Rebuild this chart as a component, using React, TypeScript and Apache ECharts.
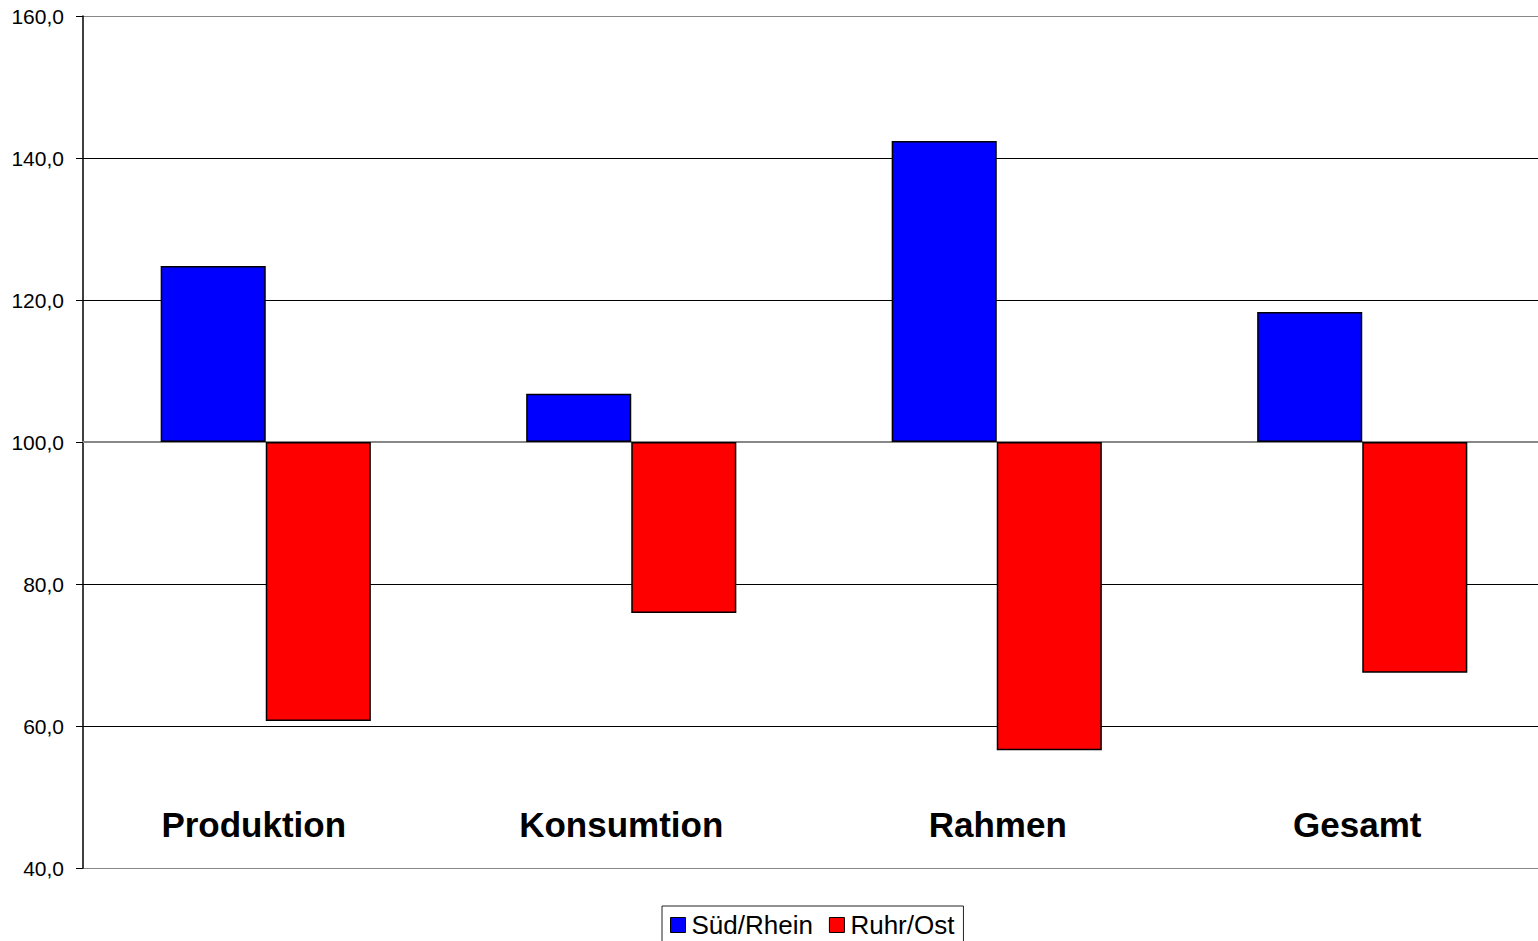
import React, { useEffect, useRef } from "react";
import * as echarts from "echarts";

// Index values (base = 100) per area
const categories = ["Produktion", "Konsumtion", "Rahmen", "Gesamt"];
const suedRhein = [124.8, 106.8, 142.4, 118.3];
const ruhrOst = [60.7, 75.9, 56.6, 67.5];
const BASE = 100;

// small horizontal nudges of the category captions (px, negative = left)
const labelShift = [-12, -10, 1, -5];

const FONT = 'Arial, "Liberation Sans", sans-serif';

const fmt = (v: number) => (v + BASE).toFixed(1).replace(".", ",");

export default function App() {
  const ref = useRef<HTMLDivElement>(null);

  useEffect(() => {
    document.body.style.margin = "0";
    const chart = echarts.init(ref.current!, null, { renderer: "svg" });

    const rich: Record<string, any> = {};
    labelShift.forEach((s, i) => {
      rich["c" + i] = {
        fontSize: 35,
        fontWeight: "bold",
        color: "#000",
        fontFamily: FONT,
        padding: s < 0 ? [0, -2 * s, 0, 0] : [0, 0, 0, 2 * s],
      };
    });

    chart.setOption({
      animation: false,
      backgroundColor: "#ffffff",
      textStyle: { fontFamily: FONT },
      grid: { left: 83, right: 0, top: 16, bottom: 73, containLabel: false },
      legend: {
        bottom: -9,
        left: 662,
        data: ["Süd/Rhein", "Ruhr/Ost"],
        icon: "rect",
        itemWidth: 15,
        itemHeight: 15,
        itemGap: 16,
        padding: [6, 9, 12, 8],
        borderColor: "#222",
        borderWidth: 1,
        textStyle: { fontSize: 26, color: "#000", fontFamily: FONT, padding: [0, 0, 0, 1] },
        itemStyle: { borderColor: "#000", borderWidth: 1 },
      },
      xAxis: {
        type: "category",
        data: categories,
        axisLine: { show: true, lineStyle: { color: "#888", width: 2 } },
        axisTick: { show: false },
        axisLabel: {
          inside: true,
          margin: 26,
          formatter: (v: string, i: number) => `{c${i}|${v}}`,
          rich,
        },
        splitLine: { show: false },
      },
      yAxis: {
        type: "value",
        min: -60,
        max: 60,
        interval: 20,
        axisLine: { show: true, lineStyle: { color: "#000", width: 1.5 } },
        axisTick: { show: true, length: 7, lineStyle: { color: "#000" } },
        axisLabel: {
          formatter: fmt,
          fontSize: 21,
          color: "#000",
          margin: 19,
          fontFamily: FONT,
        },
        splitLine: {
          show: true,
          lineStyle: {
            color: ["#888", "#000", "#000", "#000", "#000", "#000", "#888"],
            width: 1,
          },
        },
      },
      series: [
        {
          name: "Süd/Rhein",
          type: "bar",
          data: suedRhein.map((v) => +(v - BASE).toFixed(2)),
          barGap: "0%",
          barCategoryGap: "42.5%",
          itemStyle: { color: "#0000ff", borderColor: "#000", borderWidth: 1.5 },
        },
        {
          name: "Ruhr/Ost",
          type: "bar",
          data: ruhrOst.map((v) => +(v - BASE).toFixed(2)),
          barGap: "0%",
          barCategoryGap: "42.5%",
          itemStyle: { color: "#ff0000", borderColor: "#000", borderWidth: 1.5 },
        },
      ],
    });
    return () => chart.dispose();
  }, []);

  // the plot runs a few pixels past the right edge of the visible frame
  return (
    <div style={{ width: 1538, height: 941, overflow: "hidden" }}>
      <div ref={ref} style={{ width: 1545, height: 941 }} />
    </div>
  );
}
